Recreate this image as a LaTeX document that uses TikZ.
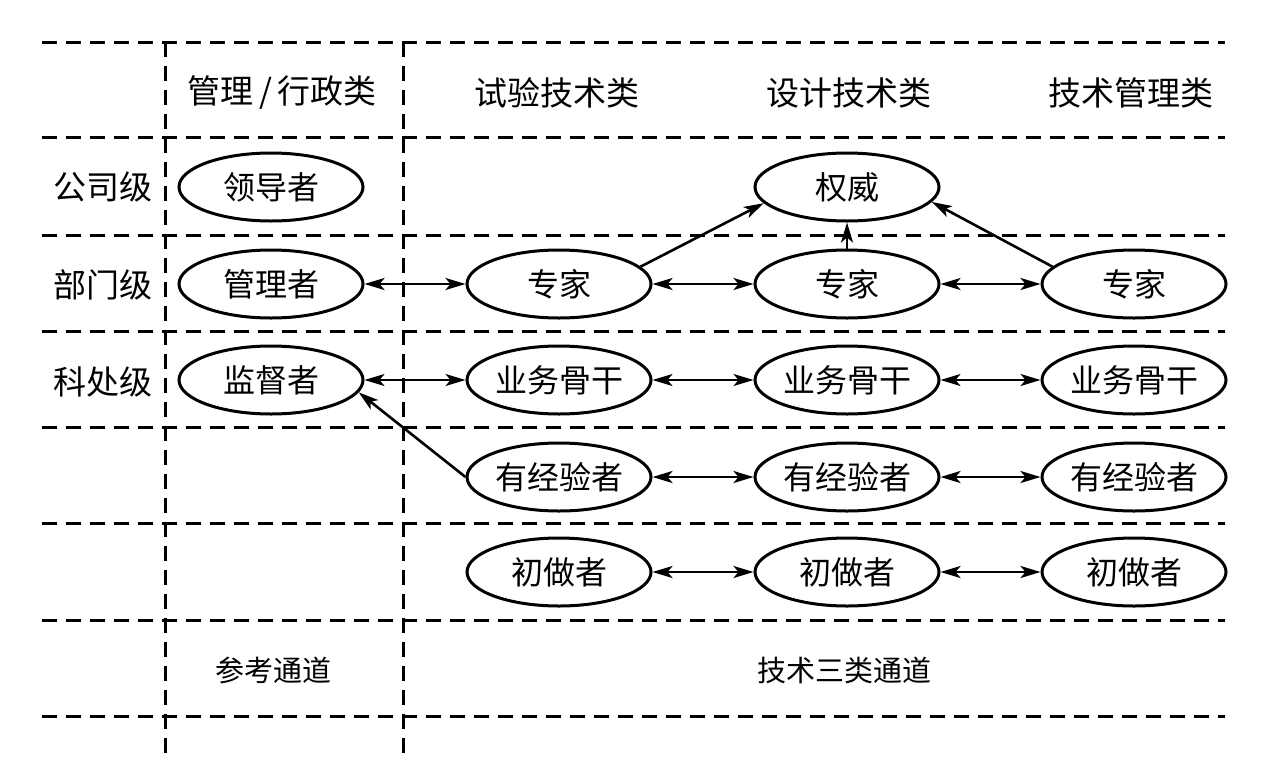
\documentclass[tikz,border=0pt]{standalone}
\usepackage{fontspec}
\newfontfamily\cjk{Noto Sans CJK SC}
\usetikzlibrary{shapes.geometric,arrows.meta}
\begin{document}
\begin{tikzpicture}[x=1pt,y=-1pt,
  grid/.style={line width=3pt, dash pattern=on 15pt off 9pt},
  el/.style={ellipse,draw,line width=3pt,minimum width=184pt,minimum height=68pt,inner sep=0pt,font=\cjk\fontsize{32}{32}\selectfont},
  lab/.style={inner sep=0pt,font=\cjk\fontsize{33}{33}\selectfont},
  foot/.style={inner sep=0pt,font=\cjk\fontsize{29}{29}\selectfont},
  tip/.tip={Stealth[length=20pt,width=12pt,inset=5pt]},
  arr/.style={-tip,line width=2.6pt},
  dbl/.style={tip-tip,line width=2.8pt},
  dblthin/.style={tip-tip,line width=2pt}]
\useasboundingbox (0,0) rectangle (1265,782);
% grid
\foreach \y in {42,137,235,331,427,523,620,716}
  \draw[grid] (42,\y) -- (1225,\y);
\foreach \x in {165,403}
  \draw[grid] (\x,42) -- (\x,755);
% headers
\node[lab] (h1) at (282,93) {管理\,/\,行政类};
\node[lab] (h2) at (557,93) {试验技术类};
\node[lab] (h3) at (849,93) {设计技术类};
\node[lab] (h4) at (1131,93) {技术管理类};
\node[lab] (r1) at (103,187) {公司级};
\node[lab] (r2) at (103,285) {部门级};
\node[lab] (r3) at (103,382) {科处级};
\node[foot] (f1) at (273,670) {参考通道};
\node[foot] (f2) at (844,670) {技术三类通道};
% ellipses
\node[el] (ld) at (271,187) {领导者};
\node[el] (mg) at (271,284) {管理者};
\node[el] (sv) at (271,380) {监督者};
\node[el] (qw) at (847,187) {权威};
\node[el] (e2) at (559,284) {专家};
\node[el] (e3) at (847,284) {专家};
\node[el] (e4) at (1134,284) {专家};
\node[el] (b2) at (559,380) {业务骨干};
\node[el] (b3) at (847,380) {业务骨干};
\node[el] (b4) at (1134,380) {业务骨干};
\node[el] (x2) at (559,477) {有经验者};
\node[el] (x3) at (847,477) {有经验者};
\node[el] (x4) at (1134,477) {有经验者};
\node[el] (c2) at (559,572) {初做者};
\node[el] (c3) at (847,572) {初做者};
\node[el] (c4) at (1134,572) {初做者};
% connectors
\draw[dbl] (mg.east) -- (e2.west);
\draw[dbl] (e2.east) -- (e3.west);
\draw[dbl] (e3.east) -- (e4.west);
\draw[dblthin] (sv.east) -- (b2.west);
\draw[dblthin] (b2.east) -- (b3.west);
\draw[dblthin] (b3.east) -- (b4.west);
\draw[dbl] (x2.east) -- (x3.west);
\draw[dbl] (x3.east) -- (x4.west);
\draw[dbl] (c2.east) -- (c3.west);
\draw[dbl] (c3.east) -- (c4.west);
\draw[arr] (e2.12) -- (qw.191);
\draw[arr] (e3.north) -- (qw.south);
\draw[arr] (e4.168) -- (qw.350);
\draw[arr] (x2.west) -- (sv.352);
\end{tikzpicture}
\end{document}
